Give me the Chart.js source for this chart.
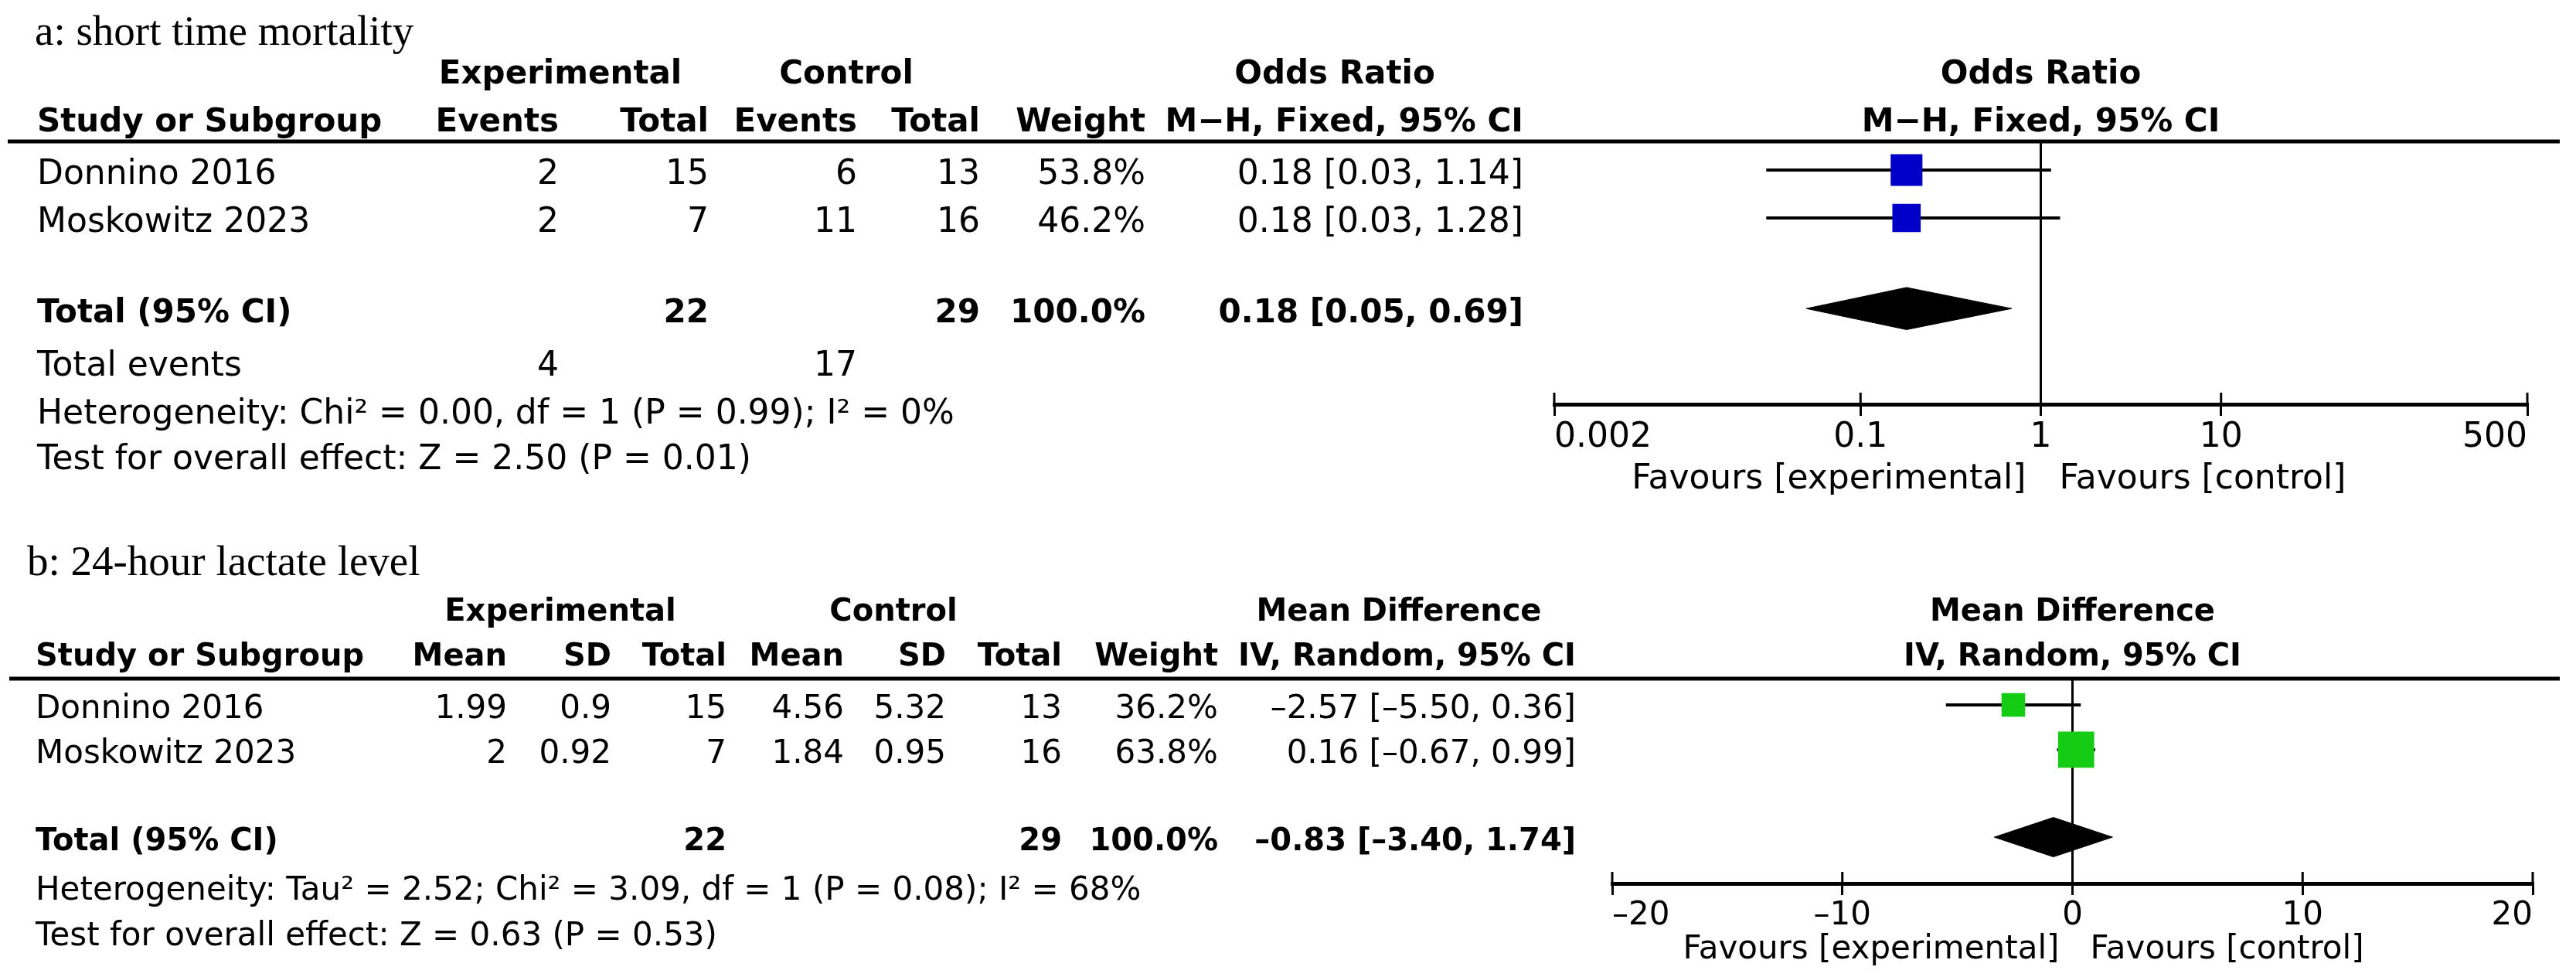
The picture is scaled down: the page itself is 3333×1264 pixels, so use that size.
<!DOCTYPE html>
<html><head><meta charset="utf-8">
<script src="https://cdn.jsdelivr.net/npm/chart.js@4.4.1/dist/chart.umd.min.js"></script>
<style>
html,body{margin:0;padding:0;background:#fff;overflow:hidden;}
canvas{display:block;}
</style></head>
<body>
<canvas id="ca" width="3333" height="640"></canvas>
<canvas id="cb" width="3333" height="624"></canvas>
<script>
// ---------------- Panel a: short time mortality ----------------
const A_TITLE = 'a: short time mortality';
const A_STUDIES = ['Donnino 2016', 'Moskowitz 2023'];
const A_EXP_EVENTS = [2, 2];
const A_EXP_TOTAL = [15, 7];
const A_CTRL_EVENTS = [6, 11];
const A_CTRL_TOTAL = [13, 16];
const A_WEIGHT = [53.8, 46.2];
const A_OR = [0.18, 0.18];
const A_OR_LOW = [0.03, 0.03];
const A_OR_HIGH = [1.14, 1.28];
const A_TOTAL_N = [22, 29];
const A_TOTAL_EVENTS = [4, 17];
const A_TOTAL_OR = [0.18, 0.05, 0.69];   // estimate, low, high
const A_TICKS = [0.002, 0.1, 1, 10, 500];
const A_HET = 'Heterogeneity: Chi\u00B2 = 0.00, df = 1 (P = 0.99); I\u00B2 = 0%';
const A_TEST = 'Test for overall effect: Z = 2.50 (P = 0.01)';

// ---------------- Panel b: 24-hour lactate level ----------------
const B_TITLE = 'b: 24-hour lactate level';
const B_STUDIES = ['Donnino 2016', 'Moskowitz 2023'];
const B_EXP_MEAN = [1.99, 2];
const B_EXP_SD = [0.9, 0.92];
const B_EXP_TOTAL = [15, 7];
const B_CTRL_MEAN = [4.56, 1.84];
const B_CTRL_SD = [5.32, 0.95];
const B_CTRL_TOTAL = [13, 16];
const B_WEIGHT = [36.2, 63.8];
const B_MD = [-2.57, 0.16];
const B_MD_LOW = [-5.50, -0.67];
const B_MD_HIGH = [0.36, 0.99];
const B_TOTAL_N = [22, 29];
const B_TOTAL_MD = [-0.83, -3.40, 1.74];  // estimate, low, high
const B_TICKS = [-20, -10, 0, 10, 20];
const B_HET = 'Heterogeneity: Tau\u00B2 = 2.52; Chi\u00B2 = 3.09, df = 1 (P = 0.08); I\u00B2 = 68%';
const B_TEST = 'Test for overall effect: Z = 0.63 (P = 0.53)';

// ---------------- styling ----------------
const SANS = '"DejaVu Sans", Verdana, sans-serif';
const SERIF = '"Liberation Serif", "Times New Roman", serif';
const TITLE = 55;

function num(v, d) {
  const s = (d == null) ? String(Math.abs(v)) : Math.abs(v).toFixed(d);
  return (v < 0 ? '\u2013' : '') + s;
}
function ciText(e, l, h) { return num(e, 2) + ' [' + num(l, 2) + ', ' + num(h, 2) + ']'; }
function sideFor(w) { return 2.07 * Math.pow(w, 0.75); }

function txt(ctx, s, x, y, align, font) {
  ctx.font = font;
  ctx.textAlign = align;
  ctx.textBaseline = 'alphabetic';
  ctx.fillStyle = '#000';
  ctx.fillText(s, x, y);
}

function buildPanel(canvasId, P) {
  const rows = P.studyRows;
  const datasets = [];
  datasets.push({
    data: P.est.map((v, i) => ({x: v, y: rows[i]})),
    pointStyle: 'rect',
    pointRadius: c => sideFor(P.weight[c.dataIndex]) / Math.SQRT2,
    pointHoverRadius: c => sideFor(P.weight[c.dataIndex]) / Math.SQRT2,
    backgroundColor: P.color, borderColor: P.color, pointBorderWidth: 0,
    showLine: false, order: 0
  });
  P.est.forEach((v, i) => datasets.push({
    data: [{x: P.low[i], y: rows[i]}, {x: P.high[i], y: rows[i]}],
    showLine: true, borderColor: '#000', borderWidth: 4, pointRadius: 0, order: 1
  }));
  datasets.push({
    data: [{x: P.nullValue, y: P.yMin}, {x: P.nullValue, y: P.yMax}],
    showLine: true, borderColor: '#000', borderWidth: 3, pointRadius: 0, order: 2
  });
  const te = P.total[0], tl = P.total[1], th = P.total[2];
  const ty = P.totalRow, dh = P.diamondHalf;
  datasets.push({
    data: [{x: tl, y: ty}, {x: te, y: ty - dh}, {x: th, y: ty}, {x: te, y: ty + dh}, {x: tl, y: ty}],
    showLine: true, fill: 'shape', backgroundColor: '#000', borderColor: '#000',
    borderWidth: 1, pointRadius: 0, tension: 0, order: 3
  });

  const textPlugin = {
    id: 'forestText',
    afterDraw(chart) {
      const ctx = chart.ctx, xs = chart.scales.x, ys = chart.scales.y, ca = chart.chartArea;
      const Y = v => ys.getPixelForValue(v) + P.baseOff;
      const R = 'normal ' + P.reg + 'px ' + SANS, B = 'bold ' + P.bold + 'px ' + SANS;
      ctx.save();
      // horizontal rule under header
      ctx.strokeStyle = '#000'; ctx.lineWidth = 5;
      ctx.beginPath(); ctx.moveTo(P.ruleX[0], ca.top); ctx.lineTo(P.ruleX[1], ca.top); ctx.stroke();
      // axis tick marks above axis
      ctx.lineWidth = 3;
      P.ticks.forEach(t => {
        const x = xs.getPixelForValue(t);
        ctx.beginPath(); ctx.moveTo(x, ca.bottom - 15); ctx.lineTo(x, ca.bottom); ctx.stroke();
      });
      // title
      txt(ctx, P.title, P.titleX, Y(P.rowTitle), 'left', 'normal ' + TITLE + 'px ' + SERIF);
      // header row 1
      P.head1.forEach(h => txt(ctx, h[0], h[1], Y(P.rowH1), 'center', B));
      txt(ctx, P.plotHead1, xs.getPixelForValue(P.nullValue), Y(P.rowH1), 'center', B);
      // header row 2
      txt(ctx, 'Study or Subgroup', P.leftX, Y(P.rowH2), 'left', B);
      P.head2.forEach((h, j) => txt(ctx, h, P.cols[j], Y(P.rowH2), 'right', B));
      txt(ctx, P.plotHead2, xs.getPixelForValue(P.nullValue), Y(P.rowH2), 'center', B);
      // study rows
      P.studies.forEach((s, i) => {
        txt(ctx, s, P.leftX, Y(rows[i]), 'left', R);
        P.cells[i].forEach((c, j) => txt(ctx, c, P.cols[j], Y(rows[i]), 'right', R));
      });
      // total row
      txt(ctx, 'Total (95% CI)', P.leftX, Y(P.totalRow), 'left', B);
      P.totalCells.forEach(c => txt(ctx, c[0], P.cols[c[1]], Y(P.totalRow), 'right', B));
      // total events (panel a only)
      if (P.eventsCells) {
        txt(ctx, 'Total events', P.leftX, Y(P.rowEvents), 'left', R);
        P.eventsCells.forEach(c => txt(ctx, c[0], P.cols[c[1]], Y(P.rowEvents), 'right', R));
      }
      txt(ctx, P.het, P.leftX, Y(P.rowHet), 'left', R);
      txt(ctx, P.test, P.leftX, Y(P.rowTest), 'left', R);
      // favours labels
      const xn = xs.getPixelForValue(P.nullValue);
      txt(ctx, 'Favours [experimental]', xn - P.favGap[0], Y(P.rowFav), 'right', R);
      txt(ctx, 'Favours [control]', xn + P.favGap[1], Y(P.rowFav), 'left', R);
      ctx.restore();
    }
  };

  const canvas = document.getElementById(canvasId);
  return new Chart(canvas, {
    type: 'scatter',
    data: {datasets},
    options: {
      responsive: false, animation: false, devicePixelRatio: 1, events: [],
      layout: {padding: P.padding},
      plugins: {legend: {display: false}, tooltip: {enabled: false}},
      scales: {
        x: {
          type: P.xType, min: P.xMin, max: P.xMax,
          afterBuildTicks: s => { s.ticks = P.ticks.map(v => ({value: v})); },
          afterFit: s => { s.height = P.axisH; },
          border: {display: true, color: '#000', width: 5},
          grid: {display: true, drawOnChartArea: false, drawTicks: true, tickLength: 15,
                 tickWidth: 3, tickColor: '#000', color: '#000', lineWidth: 3},
          ticks: {color: '#000', font: {family: SANS, size: P.reg}, padding: 2,
                  maxRotation: 0, autoSkip: false, align: 'inner',
                  callback: v => P.tickFmt(v)}
        },
        y: {type: 'linear', display: false, reverse: true, min: P.yMin, max: P.yMax}
      }
    },
    plugins: [textPlugin]
  });
}

// ---------------- panel a ----------------
buildPanel('ca', {
  title: A_TITLE, titleX: 45, leftX: 48, reg: 44, bold: 42, baseOff: 18,
  studies: A_STUDIES, studyRows: [1, 2],
  est: A_OR, low: A_OR_LOW, high: A_OR_HIGH, weight: A_WEIGHT, color: '#0000C8',
  total: A_TOTAL_OR, totalRow: 3.89, diamondHalf: 0.44,
  nullValue: 1, xType: 'logarithmic', xMin: A_TICKS[0], xMax: A_TICKS[A_TICKS.length - 1],
  ticks: A_TICKS, tickFmt: v => String(v),
  yMin: 0.403, yMax: 5.887,
  padding: {left: 2011, right: 63, top: 183, bottom: 640 - 523 - 100}, axisH: 100,
  ruleX: [10, 3312],
  cols: [723, 917, 1109, 1268, 1482, 1971],
  head1: [['Experimental', 725], ['Control', 1095], ['Odds Ratio', 1727]],
  head2: ['Events', 'Total', 'Events', 'Total', 'Weight', 'M\u2212H, Fixed, 95% CI'],
  plotHead1: 'Odds Ratio', plotHead2: 'M\u2212H, Fixed, 95% CI',
  cells: A_STUDIES.map((s, i) => [String(A_EXP_EVENTS[i]), String(A_EXP_TOTAL[i]), String(A_CTRL_EVENTS[i]),
    String(A_CTRL_TOTAL[i]), A_WEIGHT[i].toFixed(1) + '%', ciText(A_OR[i], A_OR_LOW[i], A_OR_HIGH[i])]),
  totalCells: [[String(A_TOTAL_N[0]), 1], [String(A_TOTAL_N[1]), 3], ['100.0%', 4],
    [ciText(A_TOTAL_OR[0], A_TOTAL_OR[1], A_TOTAL_OR[2]), 5]],
  eventsCells: [[String(A_TOTAL_EVENTS[0]), 0], [String(A_TOTAL_EVENTS[1]), 2]],
  het: A_HET, test: A_TEST,
  rowTitle: -1.9, rowH1: -1.1, rowH2: -0.1, rowEvents: 5.0, rowHet: 6.0, rowTest: 6.95, rowFav: 7.35,
  favGap: [19, 24]
});

// ---------------- panel b ----------------
buildPanel('cb', {
  title: B_TITLE, titleX: 35, leftX: 46, reg: 42, bold: 40, baseOff: 17,
  studies: B_STUDIES, studyRows: [1, 2],
  est: B_MD, low: B_MD_LOW, high: B_MD_HIGH, weight: B_WEIGHT, color: '#14CC14',
  total: B_TOTAL_MD, totalRow: 3.95, diamondHalf: 0.44,
  nullValue: 0, xType: 'linear', xMin: B_TICKS[0], xMax: B_TICKS[B_TICKS.length - 1],
  ticks: B_TICKS, tickFmt: v => num(v),
  yMin: 0.414, yMax: 4.983,
  padding: {left: 2086, right: 56, top: 238, bottom: 624 - 503 - 100}, axisH: 100,
  ruleX: [12, 3312],
  cols: [656, 791, 940, 1092, 1224, 1374, 1576, 2039],
  head1: [['Experimental', 725], ['Control', 1156], ['Mean Difference', 1810]],
  head2: ['Mean', 'SD', 'Total', 'Mean', 'SD', 'Total', 'Weight', 'IV, Random, 95% CI'],
  plotHead1: 'Mean Difference', plotHead2: 'IV, Random, 95% CI',
  cells: B_STUDIES.map((s, i) => [num(B_EXP_MEAN[i]), num(B_EXP_SD[i]), String(B_EXP_TOTAL[i]),
    num(B_CTRL_MEAN[i]), num(B_CTRL_SD[i]), String(B_CTRL_TOTAL[i]), B_WEIGHT[i].toFixed(1) + '%',
    ciText(B_MD[i], B_MD_LOW[i], B_MD_HIGH[i])]),
  totalCells: [[String(B_TOTAL_N[0]), 2], [String(B_TOTAL_N[1]), 5], ['100.0%', 6],
    [ciText(B_TOTAL_MD[0], B_TOTAL_MD[1], B_TOTAL_MD[2]), 7]],
  eventsCells: null,
  het: B_HET, test: B_TEST,
  rowTitle: -2.19, rowH1: -1.17, rowH2: -0.17, rowHet: 5.05, rowTest: 6.07, rowFav: 6.36,
  favGap: [17, 23]
});
</script>
</body></html>
